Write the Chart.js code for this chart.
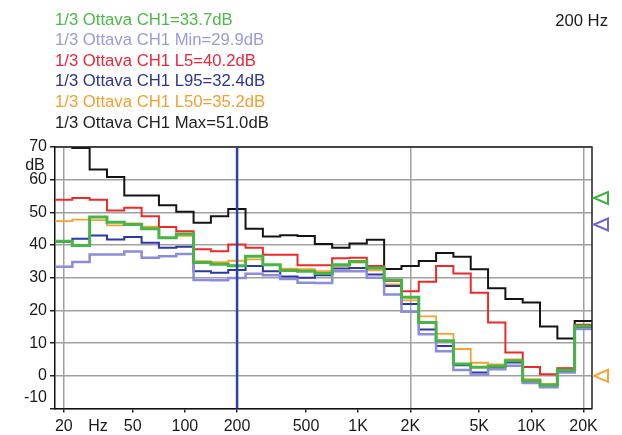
<!DOCTYPE html>
<html>
<head>
<meta charset="utf-8">
<script src="https://cdn.jsdelivr.net/npm/chart.js@4.4.1/dist/chart.umd.min.js"></script>
<style>
  body { margin: 0; background: #fff; }
  #wrap { width: 622px; height: 435px; position: relative; }
</style>
</head>
<body>
<div id="wrap"><canvas id="spectrum"></canvas></div>
<script>
// 1/3 octave bands, nominal centre frequencies (Hz)
const bands = [20, 25, 31.5, 40, 50, 63, 80, 100, 125, 160, 200, 250, 315, 400, 500, 630, 800,
  1000, 1250, 1600, 2000, 2500, 3150, 4000, 5000, 6300, 8000, 10000, 12500, 16000, 20000];

// levels in dB, one per band
const leq  = [41.2, 39.9, 48.6, 47.0, 46.3, 45.0, 42.2, 43.4, 34.7, 34.1, 33.7, 36.6, 34.0, 32.2, 32.0, 31.3,
  34.0, 35.0, 33.0, 29.3, 24.0, 16.3, 10.7, 3.6, 2.6, 2.9, 4.6, -1.5, -2.8, 1.8, 15.2];
const lmin = [33.4, 34.8, 37.1, 37.1, 38.0, 36.1, 36.6, 37.3, 29.3, 29.2, 29.9, 31.2, 30.8, 29.6, 28.5, 28.4,
  32.0, 32.0, 30.0, 24.9, 19.6, 12.7, 7.5, 1.8, 0.5, 2.0, 3.1, -2.2, -3.5, 1.0, 14.3];
const l5   = [53.9, 54.4, 53.9, 50.6, 51.4, 48.8, 45.5, 44.2, 38.7, 38.1, 40.2, 39.2, 37.0, 37.0, 33.8, 33.8,
  36.0, 36.1, 33.6, 29.0, 25.9, 28.8, 33.6, 31.3, 25.4, 16.3, 7.1, 2.7, 0.5, 2.3, 15.6];
const l95  = [41.0, 41.9, 42.9, 41.7, 42.5, 40.7, 39.2, 39.5, 32.0, 31.5, 32.4, 33.6, 32.0, 30.4, 30.0, 30.8,
  32.8, 33.0, 31.0, 27.5, 22.0, 14.2, 9.1, 3.2, 1.0, 2.6, 4.1, -2.0, -3.2, 1.4, 14.6];
const l50  = [47.3, 47.8, 47.6, 46.0, 46.6, 45.6, 42.2, 42.8, 35.1, 34.8, 35.2, 35.6, 33.9, 32.8, 32.6, 32.0,
  33.6, 34.6, 32.3, 28.0, 23.1, 18.2, 12.8, 8.2, 4.0, 3.5, 5.0, -1.0, -2.5, 2.3, 15.0];
const lmax = [74.0, 69.7, 63.1, 60.8, 55.2, 55.2, 52.2, 50.2, 46.8, 48.8, 51.0, 45.0, 42.6, 43.0, 42.8, 40.3,
  39.2, 40.5, 41.6, 32.7, 33.6, 35.1, 37.6, 36.4, 32.6, 26.8, 23.5, 22.4, 15.1, 11.4, 16.8];

const seriesNames  = ["1/3 Ottava CH1", "1/3 Ottava CH1 Min", "1/3 Ottava CH1 L5",
  "1/3 Ottava CH1 L95", "1/3 Ottava CH1 L50", "1/3 Ottava CH1 Max"];
const seriesData   = [leq, lmin, l5, l95, l50, lmax];
const seriesColors = ["#46b446", "#8c8cd8", "#ec2a2a", "#2a38a8", "#f4a232", "#141414"];
const legendColors = ["#4cb848", "#9a9ad8", "#e8283a", "#2a3590", "#f0a030", "#222222"];
const seriesWidths = [3, 2.5, 2, 2, 1.8, 2];

const xTicks = [20, 50, 100, 200, 500, 1000, 2000, 5000, 10000, 20000];
const xTickLabels = ["20", "50", "100", "200", "500", "1K", "2K", "5K", "10K", "20K"];
const xGridAt = [20, 200, 2000, 20000];

const cursorHz = 200;
const markerLevels = [54.4, 46.3, 0];
const markerColors = ["#3cb43c", "#6a6ac8", "#f4a232"];

// band edges: snap nominal to the exact base-10 series, +/- 1/20 decade
function exactCentre(f) { return Math.pow(10, Math.round(Math.log10(f) * 10) / 10); }
function lowerEdge(f) { return exactCentre(f) / Math.pow(10, 0.05); }
function upperEdge(f) { return exactCentre(f) * Math.pow(10, 0.05); }

function stepPoints(values) {
  const pts = bands.map((f, i) => ({ x: lowerEdge(f), y: values[i] }));
  pts.push({ x: upperEdge(bands[bands.length - 1]), y: values[values.length - 1] });
  return pts;
}

const cursorIndex = bands.indexOf(cursorHz);
const FONT = '"Liberation Sans", Arial, sans-serif';

const overlay = {
  id: "overlay",
  afterDatasetsDraw(chart) {
    const { ctx, chartArea: a, scales: { x, y } } = chart;
    ctx.save();

    // top and right frame
    ctx.strokeStyle = "#222";
    ctx.lineWidth = 1.5;
    ctx.beginPath();
    ctx.moveTo(a.left, a.top);
    ctx.lineTo(a.right, a.top);
    ctx.lineTo(a.right, a.bottom);
    ctx.stroke();

    // cursor
    const cx = x.getPixelForValue(cursorHz);
    ctx.strokeStyle = "#2442b4";
    ctx.lineWidth = 2.5;
    ctx.beginPath();
    ctx.moveTo(cx, a.top);
    ctx.lineTo(cx, a.bottom);
    ctx.stroke();

    // level markers to the right of the plot
    ctx.lineWidth = 2;
    markerLevels.forEach((v, i) => {
      const py = y.getPixelForValue(v);
      ctx.strokeStyle = markerColors[i];
      ctx.beginPath();
      ctx.moveTo(a.right + 2, py);
      ctx.lineTo(a.right + 16, py - 6);
      ctx.lineTo(a.right + 16, py + 6);
      ctx.closePath();
      ctx.stroke();
    });

    // legend with readout at the cursor
    ctx.font = "16.7px " + FONT;
    ctx.textBaseline = "middle";
    ctx.textAlign = "left";
    seriesNames.forEach((name, i) => {
      ctx.fillStyle = legendColors[i];
      ctx.fillText(name + "=" + seriesData[i][cursorIndex].toFixed(1) + "dB", 55, 20 + i * 20.6);
    });
    ctx.fillStyle = "#1a1a1a";
    ctx.textAlign = "right";
    ctx.fillText(cursorHz + " Hz", 608, 21);

    // unit labels and the raised -10
    ctx.font = "16px " + FONT;
    ctx.fillText("-10", 47, 398);
    ctx.textAlign = "center";
    ctx.fillText("dB", 35, 166);
    ctx.fillText("Hz", x.getPixelForValue(31.5), 427);
    ctx.restore();
  }
};

new Chart(document.getElementById("spectrum"), {
  type: "line",
  data: {
    datasets: seriesNames.map((name, i) => ({
      label: name,
      data: stepPoints(seriesData[i]),
      borderColor: seriesColors[i],
      borderWidth: seriesWidths[i],
      stepped: true,
      pointRadius: 0,
      fill: false
    }))
  },
  options: {
    responsive: true,
    maintainAspectRatio: false,
    animation: false,
    layout: { padding: { top: 147, right: 30, left: 0, bottom: 0 } },
    plugins: { legend: { display: false }, tooltip: { enabled: false } },
    scales: {
      x: {
        type: "logarithmic",
        min: lowerEdge(bands[0]),
        max: upperEdge(bands[bands.length - 1]),
        afterBuildTicks: s => { s.ticks = xTicks.map(v => ({ value: v })); },
        afterFit: s => { s.height = 26.5; },
        ticks: {
          autoSkip: false,
          maxRotation: 0,
          padding: 4,
          color: "#1a1a1a",
          font: { size: 16, family: FONT },
          callback: v => xTickLabels[xTicks.indexOf(v)]
        },
        grid: {
          color: c => (c.tick && xGridAt.includes(c.tick.value)) ? "#a0a0a0" : "rgba(0,0,0,0)",
          lineWidth: 1.5,
          tickColor: "#222",
          tickLength: 4
        },
        border: { color: "#111", width: 1.5 }
      },
      y: {
        min: -10,
        max: 70,
        afterFit: s => { s.width = 55; },
        ticks: {
          stepSize: 10,
          padding: 3,
          color: "#1a1a1a",
          font: { size: 16, family: FONT },
          callback: v => v === -10 ? "" : v
        },
        grid: { color: "#a0a0a0", lineWidth: 1.5, tickColor: "#222", tickLength: 5 },
        border: { color: "#111", width: 1.5 }
      }
    }
  },
  plugins: [overlay]
});
</script>
</body>
</html>
